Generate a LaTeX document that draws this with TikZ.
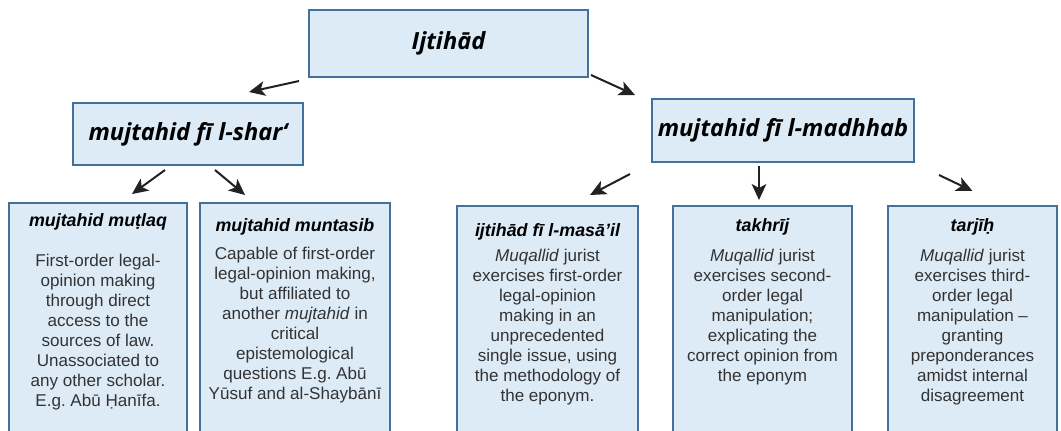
\documentclass[tikz,border=0pt]{standalone}
\usepackage{fontspec}
\setmainfont{Liberation Sans}
\newfontfamily\headfont{Open Sans}
\usetikzlibrary{arrows.meta}
\frenchspacing

\definecolor{boxfill}{HTML}{DDEBF7}
\definecolor{boxline}{HTML}{41719C}
\definecolor{bodytext}{HTML}{333333}
\definecolor{arrowgray}{HTML}{222222}

\tikzset{
    box/.style={draw=boxline, fill=boxfill, line width=1.5pt, inner sep=0pt},
    toptitle/.style={font=\headfont\bfseries\itshape\fontsize{17.7}{20}\selectfont},
    subtitle/.style={font=\bfseries\itshape\fontsize{13.4}{15}\selectfont},
    bodytxt/.style={align=center, anchor=north, inner sep=0pt, text=bodytext,
        font=\fontsize{12.8}{15}\selectfont},
    arr/.style={-{Stealth[length=12pt,width=11pt,inset=3pt]}, line width=1.5pt, draw=arrowgray}
}

\begin{document}
\begin{tikzpicture}[x=0.75pt, y=-0.75pt]
        \useasboundingbox (0,0) rectangle (1061,430);

        % Livello superiore
        \node[box, toptitle, minimum width=279*0.75pt, minimum height=67*0.75pt] (ijtihad) at (448.5,43.5) {Ijtihād};

        % Livello intermedio
        \node[box, toptitle, minimum width=230*0.75pt, minimum height=62*0.75pt] (shar) at (188,134) {mujtahid fī l-shar‘};
        \node[box, toptitle, minimum width=262*0.75pt, minimum height=63*0.75pt] (madhhab) at (783,130.5) {mujtahid fī l-madhhab};

        % Livello inferiore - riquadri
        \node[box, minimum width=178*0.75pt, minimum height=242*0.75pt] (mutlaq) at (98,324) {};
        \node[box, minimum width=190*0.75pt, minimum height=242*0.75pt] (muntasib) at (295,324) {};
        \node[box, minimum width=181*0.75pt, minimum height=239*0.75pt] (masail) at (547.5,325.5) {};
        \node[box, minimum width=179*0.75pt, minimum height=239*0.75pt] (takhrij) at (762.5,325.5) {};
        \node[box, minimum width=169*0.75pt, minimum height=239*0.75pt] (tarjih) at (972.5,325.5) {};

        % Titoli e testi
        \node[subtitle] (mutlaqhead) at (98,222) {mujtahid muṭlaq};
        \node[bodytxt] (mutlaqbody) at (98,254) {
            First-order legal-\\ opinion making\\ through direct\\ access to the\\
            sources of law.\\ Unassociated to\\ any other scholar.\\ E.g. Abū Ḥanīfa.};

        \node[subtitle] (muntasibhead) at (295,227) {mujtahid muntasib};
        \node[bodytxt] (muntasibbody) at (295,247) {
            Capable of first-order\\ legal-opinion making,\\ but affiliated to\\
            another \textit{mujtahid} in\\ critical\\ epistemological\\
            questions E.g. Abū\\ Yūsuf and al-Shaybānī};

        \node[subtitle] (masailhead) at (547.5,232) {ijtihād fī l-masā’il};
        \node[bodytxt] (masailbody) at (547.5,249) {
            \textit{Muqallid} jurist\\ exercises first-order\\ legal-opinion\\
            making in an\\ unprecedented\\ single issue, using\\
            the methodology of\\ the eponym.};

        \node[subtitle] (takhrijhead) at (762.5,227) {takhrīj};
        \node[bodytxt] (takhrijbody) at (762.5,249) {
            \textit{Muqallid} jurist\\ exercises second-\\ order legal\\
            manipulation;\\ explicating the\\ correct opinion from\\ the eponym};

        \node[subtitle] (tarjihhead) at (972.5,227) {tarjīḥ};
        \node[bodytxt] (tarjihbody) at (972.5,249) {
            \textit{Muqallid} jurist\\ exercises third-\\ order legal\\
            manipulation --\\ granting\\ preponderances\\ amidst internal\\ disagreement};

        % Frecce
        \draw[arr] ([shift={(-9,3)}]ijtihad.south west) -- ([shift={(-55,-10)}]shar.north east);
        \draw[arr] ([shift={(2,-3)}]ijtihad.south east) -- ([shift={(-16,-3)}]madhhab.north west);
        \draw[arr] ([shift={(-23,4)}]shar.south) -- ([shift={(34,-8)}]mutlaq.north);
        \draw[arr] ([shift={(27,4)}]shar.south) -- ([shift={(-50,-7)}]muntasib.north);
        \draw[arr] ([shift={(-21,11)}]madhhab.south west) -- ([shift={(42.5,-10)}]masail.north);
        \draw[arr] ([shift={(-24,3)}]madhhab.south) -- ([shift={(-3.5,-5)}]takhrij.north);
        \draw[arr] ([shift={(24,12)}]madhhab.south east) -- ([shift={(0,-14)}]tarjih.north);
\end{tikzpicture}
\end{document}
